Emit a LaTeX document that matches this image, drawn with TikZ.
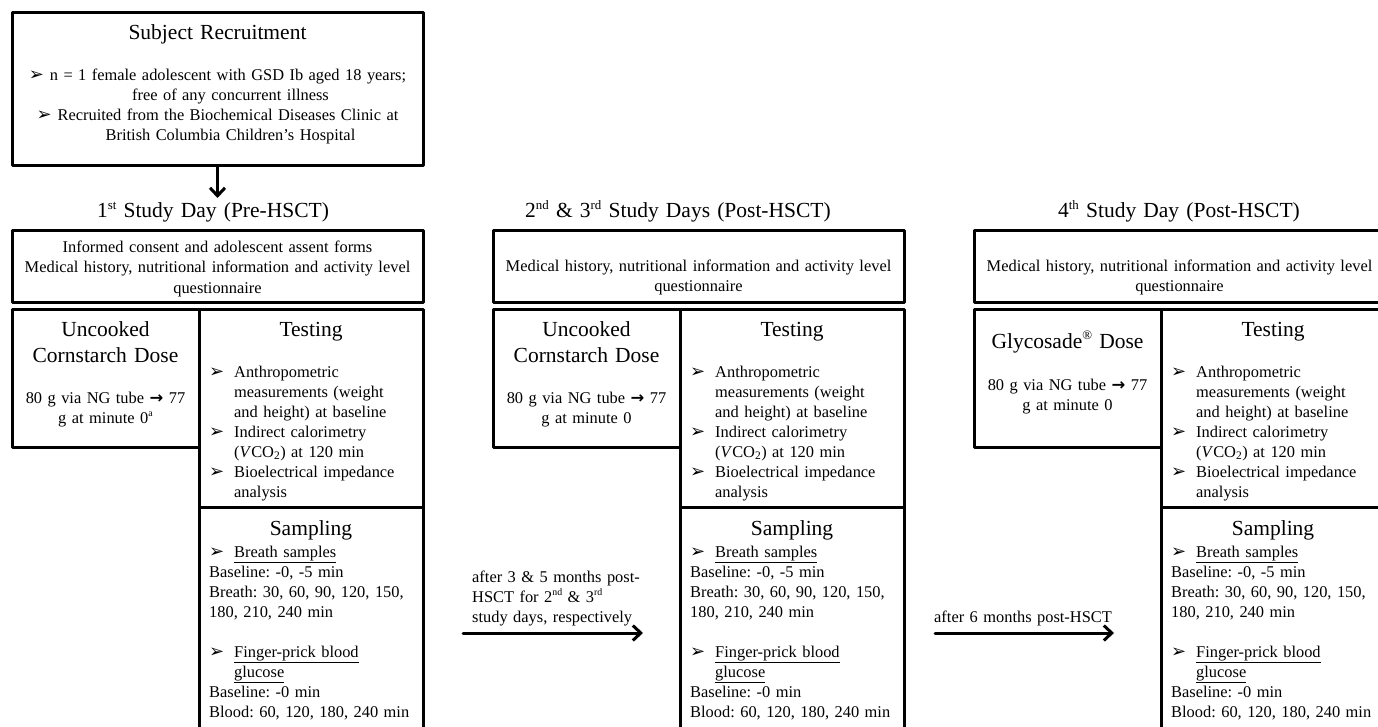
\documentclass[tikz,border=0pt]{standalone}
\usepackage{fontspec}
\usepackage{graphicx}
\setmainfont{Liberation Serif}
\newfontfamily\symfont{DejaVu Sans}
\usetikzlibrary{arrows.meta}

\newcommand{\txtsize}{\fontsize{16.4}{20}\selectfont\frenchspacing}
\newcommand{\headsize}{\fontsize{21.5}{26}\selectfont\frenchspacing}
\newcommand{\sups}[1]{\raisebox{0.4em}{\scalebox{0.6}{#1}}}
\newcommand{\bul}{\makebox[25pt][l]{\symfont\fontsize{18}{18}\selectfont ➢}}
\newcommand{\bulc}{\makebox[21pt][l]{\symfont\fontsize{18}{18}\selectfont ➢}}
\newcommand{\ind}{\hspace*{25pt}}
\newcommand{\ngarrow}{{\symfont\bfseries →}}
\newcommand{\testlist}{\bul Anthropometric\\
  \ind measurements (weight\\
  \ind and height) at baseline\\
  \bul Indirect calorimetry\\
  \ind (\textit{V}CO\textsubscript{2}) at 120 min\\
  \bul Bioelectrical impedance\\
  \ind analysis}
\newcommand{\samplist}{\bul\underline{Breath samples}\\
  Baseline: -0, -5 min\\
  Breath: 30, 60, 90, 120, 150,\\
  180, 210, 240 min\\[20pt]
  \bul\underline{Finger-prick blood}\\
  \ind\underline{glucose}\\
  Baseline: -0 min\\
  Blood: 60, 120, 180, 240 min}
\newcommand{\medq}{Medical history, nutritional information and activity level\\questionnaire}

\begin{document}
\begin{tikzpicture}[line cap=round,line join=round,x=1pt,y=-1pt,
    box/.style={draw,line width=3pt,anchor=north west,inner sep=0pt,outer sep=0pt},
    txt/.style={inner sep=0pt,font=\txtsize},
    head/.style={inner sep=0pt,font=\headsize,anchor=base,align=center,text width=180pt},
    cline/.style={txt,anchor=base,align=center,text width=405pt},
    list/.style={txt,anchor=base west,align=left,text width=215pt},
    arr/.style={line width=3pt,-{Straight Barb[length=8pt,width=15pt]}}]
  \clip (0,0) rectangle (1378,727);

  % recruitment
  \node[box,minimum width=411pt,minimum height=153pt] (recruit) at (12,13) {};
  \node[head,text width=400pt] (recruittitle) at (217.5,40) {Subject Recruitment};
  \node[cline] (recruittext) at (217.5,81) {\bulc n = 1 female adolescent with GSD Ib aged 18 years;\\
    \hspace*{26pt}free of any concurrent illness\\
    \bulc Recruited from the Biochemical Diseases Clinic at\\
    \hspace*{26pt}British Columbia Children’s Hospital};
  \coordinate (down) at (217.5,198);
  \draw[arr] (recruit.south) -- (down);

  % 1st study day
  \node[head,text width=400pt] (day1) at (213,218) {1\sups{st} Study Day (Pre-HSCT)};
  \node[box,minimum width=411pt,minimum height=71pt] (info1) at (12,231) {};
  \node[cline] (infotext1) at (217.5,253) {Informed consent and adolescent assent forms\\\medq};
  \node[box,minimum width=187pt,minimum height=138pt] (dose1) at (12,309) {};
  \node[head] (dosetitle1) at (105.5,336) {Uncooked\\Cornstarch Dose};
  \node[txt,anchor=base,align=center,text width=180pt] (dosetext1) at (105.5,403) {80 g via NG tube \ngarrow{} 77\\g at minute 0\sups{a}};
  \node[box,minimum width=224pt,minimum height=198pt] (test1) at (199,309) {};
  \node[head] (testtitle1) at (311,336) {Testing};
  \node[list] (testtext1) at (209,377) {\testlist};
  \node[box,minimum width=224pt,minimum height=240pt] (samp1) at (199,507) {};
  \node[head] (samptitle1) at (311,535) {Sampling};
  \node[list] (samptext1) at (209,557) {\samplist};

  % 2nd and 3rd study days
  \coordinate (go2) at (463,633);
  \coordinate (to2) at (643,633);
  \draw[arr] (go2) -- (to2);
  \node[list] (after2) at (472,582) {after 3 \& 5 months post-\\HSCT for 2\sups{nd} \& 3\sups{rd}\\study days, respectively};
  \node[head,text width=400pt] (day2) at (678,218) {2\sups{nd} \& 3\sups{rd} Study Days (Post-HSCT)};
  \node[box,minimum width=411pt,minimum height=71pt] (info2) at (493,231) {};
  \node[cline] (infotext2) at (698.5,272) {\medq};
  \node[box,minimum width=187pt,minimum height=138pt] (dose2) at (493,309) {};
  \node[head] (dosetitle2) at (586.5,336) {Uncooked\\Cornstarch Dose};
  \node[txt,anchor=base,align=center,text width=180pt] (dosetext2) at (586.5,403) {80 g via NG tube \ngarrow{} 77\\g at minute 0};
  \node[box,minimum width=224pt,minimum height=198pt] (test2) at (680,309) {};
  \node[head] (testtitle2) at (792,336) {Testing};
  \node[list] (testtext2) at (690,377) {\testlist};
  \node[box,minimum width=224pt,minimum height=240pt] (samp2) at (680,507) {};
  \node[head] (samptitle2) at (792,535) {Sampling};
  \node[list] (samptext2) at (690,557) {\samplist};

  % 4th study day
  \coordinate (go3) at (935,633);
  \coordinate (to3) at (1114,633);
  \draw[arr] (go3) -- (to3);
  \node[list] (after3) at (934,622) {after 6 months post-HSCT};
  \node[head,text width=400pt] (day3) at (1179,218) {4\sups{th} Study Day (Post-HSCT)};
  \node[box,minimum width=411pt,minimum height=71pt] (info3) at (974,231) {};
  \node[cline] (infotext3) at (1179.5,272) {\medq};
  \node[box,minimum width=187pt,minimum height=138pt] (dose3) at (974,309) {};
  \node[head] (dosetitle3) at (1067.5,348) {Glycosade\sups{®} Dose};
  \node[txt,anchor=base,align=center,text width=180pt] (dosetext3) at (1067.5,390) {80 g via NG tube \ngarrow{} 77\\g at minute 0};
  \node[box,minimum width=224pt,minimum height=198pt] (test3) at (1161,309) {};
  \node[head] (testtitle3) at (1273,336) {Testing};
  \node[list] (testtext3) at (1171,377) {\testlist};
  \node[box,minimum width=224pt,minimum height=240pt] (samp3) at (1161,507) {};
  \node[head] (samptitle3) at (1273,535) {Sampling};
  \node[list] (samptext3) at (1171,557) {\samplist};
\end{tikzpicture}
\end{document}
